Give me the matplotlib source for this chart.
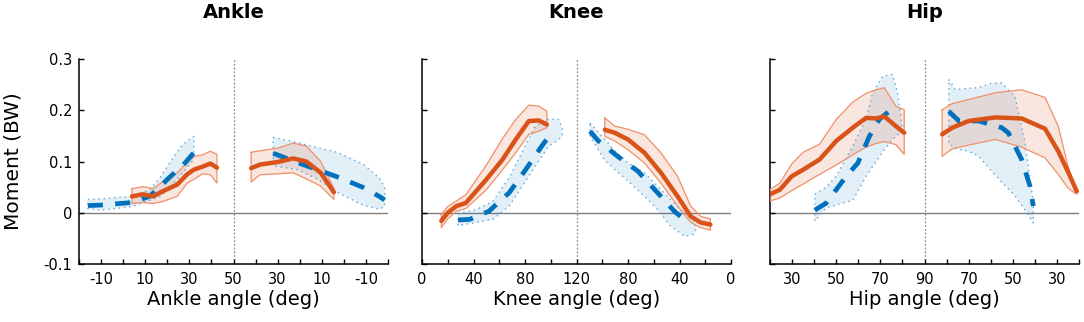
import matplotlib
matplotlib.use('Agg')
import matplotlib.pyplot as plt
from matplotlib.ticker import FixedLocator

BLUE = '#0072BD'
ORANGE = '#D95319'

# ---------------- Ankle (fold at 50 deg) ----------------
ankle_fold = 50
ankle_xlim = (-20, 120)
ankle_ticks = list(range(-20, 121, 10))
ankle_labeled = [-10, 10, 30, 50, 70, 90, 110]

ankle_b_load_ang = [-16, -10, 4, 12, 17, 20, 23, 27, 32]
ankle_b_load_mean = [0.014, 0.015, 0.020, 0.032, 0.052, 0.065, 0.077, 0.092, 0.117]
ankle_b_load_band_ang = ankle_b_load_ang
ankle_b_load_up = [0.026, 0.027, 0.032, 0.045, 0.070, 0.090, 0.110, 0.133, 0.149]
ankle_b_load_lo = [0.008, 0.005, 0.012, 0.024, 0.032, 0.045, 0.058, 0.078, 0.104]

ankle_o_load_ang = [4, 9, 13.5, 18, 24.5, 29, 32, 36, 39.5, 42.5]
ankle_o_load_mean = [0.032, 0.036, 0.032, 0.042, 0.055, 0.075, 0.084, 0.090, 0.096, 0.088]
ankle_o_load_up = [0.047, 0.051, 0.047, 0.061, 0.078, 0.098, 0.110, 0.113, 0.120, 0.114]
ankle_o_load_lo = [0.018, 0.020, 0.018, 0.022, 0.032, 0.058, 0.065, 0.076, 0.074, 0.058]

ankle_o_unl_ang = [42, 38, 30, 23, 17, 10.5, 4.5]
ankle_o_unl_mean = [0.087, 0.094, 0.099, 0.106, 0.100, 0.078, 0.040]
ankle_o_unl_up = [0.118, 0.121, 0.126, 0.136, 0.130, 0.100, 0.047]
ankle_o_unl_lo = [0.060, 0.074, 0.076, 0.078, 0.066, 0.052, 0.026]

ankle_b_unl_ang = [32, 21, 12, 3, -9, -16, -18.5]
ankle_b_unl_mean = [0.116, 0.098, 0.084, 0.070, 0.049, 0.032, 0.025]
ankle_b_unl_band_ang = ankle_b_unl_ang
ankle_b_unl_up = [0.147, 0.137, 0.127, 0.118, 0.094, 0.068, 0.050]
ankle_b_unl_lo = [0.092, 0.084, 0.066, 0.040, 0.014, 0.007, 0.012]

# ---------------- Knee (fold at 120 deg) ----------------
knee_fold = 120
knee_xlim = (0, 240)
knee_ticks = list(range(0, 241, 20))
knee_labeled = [0, 40, 80, 120, 160, 200, 240]

knee_o_load_ang = [15, 20, 26.7, 34, 50, 62.6, 72.8, 83, 90.8, 97]
knee_o_load_mean = [-0.016, 0.0, 0.013, 0.019, 0.065, 0.104, 0.143, 0.179, 0.180, 0.172]
knee_o_load_up = [-0.003, 0.012, 0.023, 0.035, 0.093, 0.145, 0.182, 0.210, 0.208, 0.198]
knee_o_load_lo = [-0.029, -0.012, 0.003, 0.008, 0.045, 0.084, 0.117, 0.153, 0.159, 0.166]

knee_b_load_ang = [28, 37, 52, 67.7, 80.5, 93, 99.7]
knee_b_load_mean = [-0.014, -0.013, 0.003, 0.039, 0.084, 0.130, 0.153]
knee_b_load_band_ang = [28, 42, 55, 67.7, 78, 88, 98.5, 106, 109]
knee_b_load_up = [-0.001, 0.006, 0.022, 0.068, 0.120, 0.169, 0.183, 0.182, 0.165]
knee_b_load_lo = [-0.025, -0.019, -0.013, 0.013, 0.052, 0.091, 0.130, 0.142, 0.152]

knee_o_unl_ang = [98, 90.3, 80, 67.2, 54.4, 41.5, 31.3, 23.6, 16]
knee_o_unl_mean = [0.162, 0.156, 0.143, 0.117, 0.078, 0.032, -0.007, -0.019, -0.023]
knee_o_unl_up = [0.185, 0.169, 0.163, 0.152, 0.117, 0.071, 0.013, -0.007, -0.012]
knee_o_unl_lo = [0.149, 0.140, 0.123, 0.097, 0.058, 0.013, -0.019, -0.029, -0.034]

knee_b_unl_ang = [109.5, 103, 88, 72.3, 57, 44, 36.4]
knee_b_unl_mean = [0.159, 0.140, 0.110, 0.081, 0.039, 0.003, -0.013]
knee_b_unl_band_ang = [109.5, 98, 90, 80, 67.2, 59, 52, 47, 39, 36, 29, 27]
knee_b_unl_up = [0.175, 0.143, 0.120, 0.097, 0.078, 0.057, 0.039, 0.026, 0.006, 0.000, -0.013, -0.032]
knee_b_unl_lo = [0.149, 0.102, 0.084, 0.062, 0.032, 0.012, -0.010, -0.026, -0.040, -0.046, -0.042, -0.032]

# ---------------- Hip (fold at 90 deg) ----------------
hip_fold = 90
hip_xlim = (20, 160)
hip_ticks = list(range(20, 161, 10))
hip_labeled = [30, 50, 70, 90, 110, 130, 150]

hip_o_load_ang = [20, 24.5, 29.8, 35, 42.5, 50, 57.5, 63.5, 68, 71.8, 77, 80.8]
hip_o_load_mean = [0.036, 0.045, 0.071, 0.084, 0.104, 0.140, 0.166, 0.185, 0.184, 0.188, 0.169, 0.156]
hip_o_load_up = [0.045, 0.058, 0.095, 0.118, 0.134, 0.182, 0.216, 0.233, 0.240, 0.244, 0.208, 0.201]
hip_o_load_lo = [0.023, 0.029, 0.043, 0.056, 0.075, 0.093, 0.113, 0.128, 0.135, 0.139, 0.133, 0.114]

hip_b_load_ang = [40.3, 45.5, 50, 54.5, 59.8, 65, 69.5, 74.8]
hip_b_load_mean = [0.005, 0.019, 0.045, 0.071, 0.097, 0.149, 0.182, 0.201]
hip_b_load_band_ang = [40.3, 45.5, 50, 53, 57.5, 63.5, 66.5, 71, 75.5, 77.8, 80]
hip_b_load_up = [0.036, 0.050, 0.071, 0.095, 0.130, 0.182, 0.234, 0.266, 0.270, 0.234, 0.162]
hip_b_load_lo = [-0.016, 0.010, 0.015, 0.019, 0.024, 0.071, 0.090, 0.118, 0.143, 0.152, 0.162]

hip_o_unl_ang = [82, 77.4, 70, 58, 46, 35.4, 29.4, 25, 21]
hip_o_unl_mean = [0.153, 0.166, 0.179, 0.186, 0.184, 0.164, 0.120, 0.080, 0.042]
hip_o_unl_up = [0.201, 0.213, 0.221, 0.234, 0.240, 0.225, 0.169, 0.091, 0.042]
hip_o_unl_lo = [0.110, 0.125, 0.132, 0.143, 0.128, 0.107, 0.075, 0.048, 0.036]

hip_b_unl_ang = [79, 74.4, 65.4, 55, 52, 49, 46, 42.2, 40.7]
hip_b_unl_mean = [0.198, 0.179, 0.179, 0.166, 0.156, 0.130, 0.104, 0.052, 0.013]
hip_b_unl_band_ang = [79, 76, 70, 65.4, 59.4, 55, 49, 44.4, 43, 40.7]
hip_b_unl_up = [0.260, 0.240, 0.243, 0.244, 0.253, 0.253, 0.227, 0.136, 0.090, 0.020]
hip_b_unl_lo = [0.135, 0.125, 0.120, 0.110, 0.080, 0.060, 0.033, 0.005, -0.005, -0.020]

titles = ['Ankle', 'Knee', 'Hip']
xlabels = ['Ankle angle (deg)', 'Knee angle (deg)', 'Hip angle (deg)']
yticks = [-0.1, 0, 0.1, 0.2, 0.3]
yticklabels = ['-0.1', '0', '0.1', '0.2', '0.3']
ylim = (-0.1, 0.3)

panels = [
    dict(fold=ankle_fold, xlim=ankle_xlim, ticks=ankle_ticks, labeled=ankle_labeled,
         blue=[(ankle_b_load_ang, ankle_b_load_mean, ankle_b_load_band_ang, ankle_b_load_up, ankle_b_load_lo, False),
               (ankle_b_unl_ang, ankle_b_unl_mean, ankle_b_unl_band_ang, ankle_b_unl_up, ankle_b_unl_lo, True)],
         orange=[(ankle_o_load_ang, ankle_o_load_mean, ankle_o_load_ang, ankle_o_load_up, ankle_o_load_lo, False),
                 (ankle_o_unl_ang, ankle_o_unl_mean, ankle_o_unl_ang, ankle_o_unl_up, ankle_o_unl_lo, True)]),
    dict(fold=knee_fold, xlim=knee_xlim, ticks=knee_ticks, labeled=knee_labeled,
         blue=[(knee_b_load_ang, knee_b_load_mean, knee_b_load_band_ang, knee_b_load_up, knee_b_load_lo, False),
               (knee_b_unl_ang, knee_b_unl_mean, knee_b_unl_band_ang, knee_b_unl_up, knee_b_unl_lo, True)],
         orange=[(knee_o_load_ang, knee_o_load_mean, knee_o_load_ang, knee_o_load_up, knee_o_load_lo, False),
                 (knee_o_unl_ang, knee_o_unl_mean, knee_o_unl_ang, knee_o_unl_up, knee_o_unl_lo, True)]),
    dict(fold=hip_fold, xlim=hip_xlim, ticks=hip_ticks, labeled=hip_labeled,
         blue=[(hip_b_load_ang, hip_b_load_mean, hip_b_load_band_ang, hip_b_load_up, hip_b_load_lo, False),
               (hip_b_unl_ang, hip_b_unl_mean, hip_b_unl_band_ang, hip_b_unl_up, hip_b_unl_lo, True)],
         orange=[(hip_o_load_ang, hip_o_load_mean, hip_o_load_ang, hip_o_load_up, hip_o_load_lo, False),
                 (hip_o_unl_ang, hip_o_unl_mean, hip_o_unl_ang, hip_o_unl_up, hip_o_unl_lo, True)]),
]

W, H = 1084, 322
fig = plt.figure(figsize=(W / 100, H / 100), dpi=100)
lefts = [79, 422, 770]
ax_w = 309
ax_top, ax_bot = 59, 264


def fold_x(angles, fold, unload):
    return [2 * fold - a if unload else a for a in angles]


for i, p in enumerate(panels):
    ax = fig.add_axes([lefts[i] / W, 1 - ax_bot / H, ax_w / W, (ax_bot - ax_top) / H])
    fold = p['fold']
    ax.axhline(0, color='#7f7f7f', lw=1.0, zorder=1)
    ax.axvline(fold, color='#8c8c8c', lw=0.9, ls=(0, (1.5, 1.5)), zorder=1)

    # bands
    for ang, mean, bang, up, lo, unl in p['blue']:
        bx = fold_x(bang, fold, unl)
        px = bx + bx[::-1] + [bx[0]]
        py = list(up) + list(lo)[::-1] + [up[0]]
        ax.fill(px, py, facecolor=BLUE, alpha=0.11, lw=0, zorder=2)
        ax.plot(px, py, color='#5aa5dc', lw=1.0, ls=(0, (1, 2.8)), zorder=3)
    for ang, mean, bang, up, lo, unl in p['orange']:
        bx = fold_x(bang, fold, unl)
        px = bx + bx[::-1] + [bx[0]]
        py = list(up) + list(lo)[::-1] + [up[0]]
        ax.fill(px, py, facecolor=ORANGE, alpha=0.14, lw=0, zorder=2)
        ax.plot(px, py, color='#f0906a', lw=0.9, zorder=3)
    # means
    for ang, mean, bang, up, lo, unl in p['blue']:
        ax.plot(fold_x(ang, fold, unl), mean, color=BLUE, lw=3.4,
                dashes=(3.2, 2.6), solid_capstyle='butt', zorder=4)
    for ang, mean, bang, up, lo, unl in p['orange']:
        ax.plot(fold_x(ang, fold, unl), mean, color=ORANGE, lw=3.2,
                solid_capstyle='round', zorder=5)

    ax.set_xlim(*p['xlim'])
    ax.set_ylim(*ylim)
    ax.xaxis.set_major_locator(FixedLocator(p['labeled']))
    ax.set_xticklabels([str(int(t if t <= fold else 2 * fold - t)) for t in p['labeled']])
    ax.xaxis.set_minor_locator(FixedLocator([t for t in p['ticks'] if t not in p['labeled']]))
    ax.set_yticks(yticks)
    if i == 0:
        ax.set_yticklabels(yticklabels)
        ax.set_ylabel('Moment (BW)', fontsize=14.5)
        ax.yaxis.set_label_coords(-0.215, 0.5)
        ax.yaxis.label.set_va('center')
    else:
        ax.set_yticklabels([])
    for s in ['top', 'right']:
        ax.spines[s].set_visible(False)
    for s in ['left', 'bottom']:
        ax.spines[s].set_linewidth(1.1)
    ax.tick_params(which='both', direction='in', length=3.5, width=1.0,
                   labelsize=10.5, color='black')
    ax.tick_params(axis='x', which='both', pad=6)
    ax.tick_params(axis='y', which='both', pad=5)
    ax.set_xlabel(xlabels[i], fontsize=14)
    ax.xaxis.set_label_coords(0.5, -0.20)
    ax.xaxis.label.set_va('baseline')

    cx = (lefts[i] + ax_w / 2) / W
    fig.text(cx, 1 - 18.5 / H, titles[i], ha='center', va='baseline',
             fontsize=14, fontweight='bold')

fig.savefig('out.png', dpi=100)
